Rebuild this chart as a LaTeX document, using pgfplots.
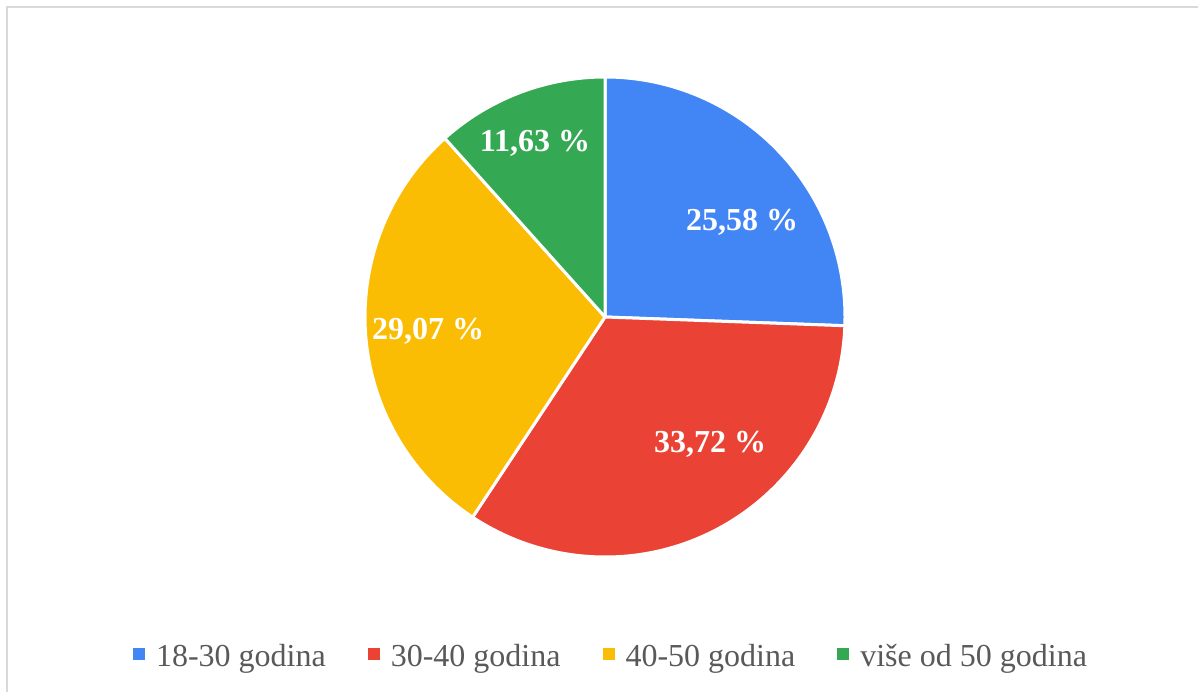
\documentclass[border=0pt]{standalone}
\usepackage{fontspec}
\setmainfont{Liberation Serif}
\usepackage{pgfplots}
\pgfplotsset{compat=1.18}
\definecolor{cBlue}{HTML}{4285F4}
\definecolor{cRed}{HTML}{EA4335}
\definecolor{cYellow}{HTML}{FBBC04}
\definecolor{cGreen}{HTML}{34A853}
\definecolor{legendgray}{HTML}{595959}
\definecolor{framegray}{HTML}{D9D9D9}
% data (percent)
\def\pA{25.58}
\def\pB{33.72}
\def\pC{29.07}
\def\pD{11.63}
\pgfmathsetmacro\aZ{90}
\pgfmathsetmacro\aA{\aZ-3.6*\pA}
\pgfmathsetmacro\aB{\aA-3.6*\pB}
\pgfmathsetmacro\aC{\aB-3.6*\pC}
\pgfmathsetmacro\aD{\aC-3.6*\pD}
\begin{document}
\begin{tikzpicture}
\begin{axis}[
  at={(0pt,0pt)}, anchor=south west,
  width=1198pt, height=691pt, scale only axis,
  xmin=0, xmax=1198, ymin=0, ymax=691,
  axis lines=none, ticks=none, clip=false,
  legend columns=4,
  legend style={at={(axis cs:611,35)}, anchor=center, draw=none, fill=none,
    font=\fontsize{32}{36}\selectfont, text=legendgray,
    nodes={inner sep=2pt},
    /tikz/every odd column/.append style={column sep=9pt},
    /tikz/every even column/.append style={column sep=40pt}},
]
\draw[framegray, line width=2pt] (axis cs:7,-2) -- (axis cs:7,684) -- (axis cs:1200,684);
\pgfplotsextra{
\def\cx{605}\def\cy{374}
\filldraw[fill=cBlue, draw=white, line width=3pt, line join=round] (axis cs:\cx,\cy) -- ++(\aZ:240pt) arc[start angle=\aZ, end angle=\aA, radius=240pt] -- cycle;
\filldraw[fill=cRed, draw=white, line width=3pt, line join=round] (axis cs:\cx,\cy) -- ++(\aA:240pt) arc[start angle=\aA, end angle=\aB, radius=240pt] -- cycle;
\filldraw[fill=cYellow, draw=white, line width=3pt, line join=round] (axis cs:\cx,\cy) -- ++(\aB:240pt) arc[start angle=\aB, end angle=\aC, radius=240pt] -- cycle;
\filldraw[fill=cGreen, draw=white, line width=3pt, line join=round] (axis cs:\cx,\cy) -- ++(\aC:240pt) arc[start angle=\aC, end angle=\aD, radius=240pt] -- cycle;
}
\node[text=white, font=\fontsize{32}{36}\selectfont\bfseries] at (axis cs:742,469) {25,58 \%};
\node[text=white, font=\fontsize{32}{36}\selectfont\bfseries] at (axis cs:710,247) {33,72 \%};
\node[text=white, font=\fontsize{32}{36}\selectfont\bfseries] at (axis cs:428,360) {29,07 \%};
\node[text=white, font=\fontsize{32}{36}\selectfont\bfseries] at (axis cs:535,548) {11,63 \%};
\addlegendimage{draw=none, fill=cBlue, legend image code/.code={\fill (0pt,-4pt) rectangle (12pt,8pt);}}
\addlegendentry{18-30 godina}
\addlegendimage{draw=none, fill=cRed, legend image code/.code={\fill (0pt,-4pt) rectangle (12pt,8pt);}}
\addlegendentry{30-40 godina}
\addlegendimage{draw=none, fill=cYellow, legend image code/.code={\fill (0pt,-4pt) rectangle (12pt,8pt);}}
\addlegendentry{40-50 godina}
\addlegendimage{draw=none, fill=cGreen, legend image code/.code={\fill (0pt,-4pt) rectangle (12pt,8pt);}}
\addlegendentry{više od 50 godina}
\end{axis}
\pgfresetboundingbox
\path[use as bounding box] (0pt,0pt) rectangle (1198pt,691pt);
\end{tikzpicture}
\end{document}
